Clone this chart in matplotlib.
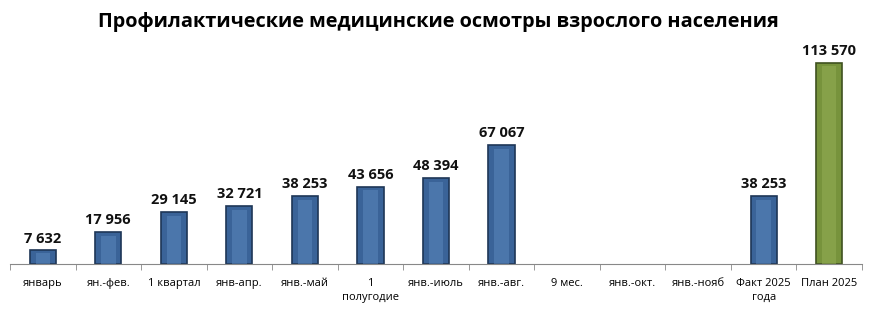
import numpy as np
import matplotlib.pyplot as plt

# --- DATA ---
categories = ['январь', 'ян.-фев.', '1 квартал', 'янв-апр.', 'янв.-май',
              '1\nполугодие', 'янв.-июль', 'янв.-авг.', '9 мес.', 'янв.-окт.',
              'янв.-нояб', 'Факт 2025\nгода', 'План 2025']
values = [7632, 17956, 29145, 32721, 38253, 43656, 48394, 67067,
          np.nan, np.nan, np.nan, 38253, 113570]
bar_colors = ['#3A6398'] * 12 + ['#77933C']
edge_colors = ['#1E3656'] * 12 + ['#3F5220']
light_colors = ['#5A86BC'] * 12 + ['#93AE55']

plt.rcParams['font.family'] = ['Open Sans', 'DejaVu Sans']

fig = plt.figure(figsize=(8.76, 3.12), dpi=100)
ax = fig.add_axes([10 / 876, 1 - 264 / 312, 852 / 876, 224 / 312])

x = np.arange(len(categories))
for xi, v, c, ec, lc in zip(x, values, bar_colors, edge_colors, light_colors):
    if np.isnan(v):
        continue
    ax.bar(xi, v, width=0.4, color=c, edgecolor=ec, linewidth=1.2, zorder=2)
    # lighter centre strip to imitate the bevelled bars
    ax.bar(xi, v - 2000 if v > 10000 else v * 0.8, width=0.22,
           color=lc, alpha=0.55, linewidth=0, zorder=3)
    ax.text(xi, v + 2800, f'{int(v):,}'.replace(',', ' '), ha='center',
            va='bottom', fontsize=10.5, fontweight='bold', color='#111111')

ax.set_xlim(-0.5, len(categories) - 0.5)
ax.set_ylim(0, 126500)
ax.set_yticks([])
for s in ['top', 'right', 'left']:
    ax.spines[s].set_visible(False)
ax.spines['bottom'].set_color('#888888')

ax.set_xticks(x)
ax.set_xticklabels(categories, fontsize=8, linespacing=1.35)
ax.tick_params(axis='x', which='major', length=0, pad=10)
ax.set_xticks(np.arange(-0.5, len(categories)), minor=True)
ax.tick_params(axis='x', which='minor', length=4, color='#888888')

fig.text(0.5, 1 - 22 / 312, 'Профилактические медицинские осмотры взрослого населения',
         ha='center', va='center', fontsize=14.3, fontweight='bold')

fig.savefig('out.png', dpi=100)
